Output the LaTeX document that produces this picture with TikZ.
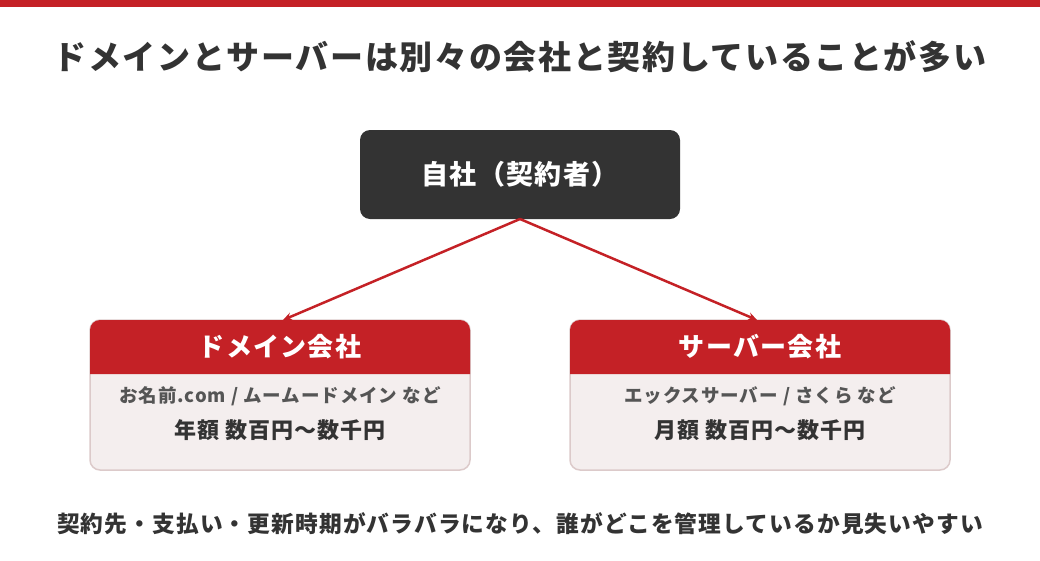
\documentclass[tikz,border=0pt]{standalone}
\usepackage{fontspec}
\setmainfont{Noto Sans CJK JP}[LetterSpace=5]
\usetikzlibrary{arrows.meta,calc}
\definecolor{cred}{HTML}{C42126}
\definecolor{cdark}{HTML}{333333}
\definecolor{cgray}{HTML}{555555}
\definecolor{cbody}{HTML}{F4EEEE}
\definecolor{cborder}{HTML}{DCCACA}
\begin{document}
\begin{tikzpicture}[x=1pt,y=-1pt,
  every node/.style={inner sep=0pt, outer sep=0pt},
  titletext/.style={font=\bfseries\fontsize{33}{33}\selectfont, text=cdark},
  topbox/.style={fill=cdark, rounded corners=10pt, minimum width=320pt, minimum height=89pt,
    text=white, font=\bfseries\fontsize{27}{27}\selectfont},
  cobox/.style={fill=cbody, draw=cborder, line width=1.5pt, rounded corners=10pt,
    minimum width=380pt, minimum height=150pt},
  headfill/.style={fill=cred},
  headtext/.style={text=white, font=\bfseries\fontsize{26}{26}\selectfont},
  subtext/.style={text=cgray, font=\bfseries\fontsize{18.5}{18.5}\selectfont},
  pricetext/.style={text=cdark, font=\bfseries\fontsize{22}{22}\selectfont},
  notetext/.style={text=cdark, font=\bfseries\fontsize{22.7}{22.7}\selectfont},
  arr/.style={draw=cred, line width=2.5pt, -{Stealth[length=9pt,width=8pt]}}
]
\useasboundingbox (0,0) rectangle (1040,560);
\fill[cred] (0,0) rectangle (1040,7);
\node[titletext] (title) at (520,57) {ドメインとサーバーは別々の会社と契約していることが多い};
\node[topbox] (top) at (520,174.5) {自社（契約者）};
% domain box
\node[cobox] (dom) at (280,395) {};
\fill[headfill] ($(dom.north west)+(0,54)$) [rounded corners=10pt] -- (dom.north west) -- (dom.north east) [sharp corners] -- ($(dom.north east)+(0,54)$) -- cycle;
\node[headtext] (domh) at ($(dom.north)+(0,27)$) {ドメイン会社};
\node[subtext] (doms) at (280,396) {お名前.com / ムームードメイン など};
\node[pricetext] (domp) at (280,430) {年額 数百円〜数千円};
% server box
\node[cobox] (srv) at (760,395) {};
\fill[headfill] ($(srv.north west)+(0,54)$) [rounded corners=10pt] -- (srv.north west) -- (srv.north east) [sharp corners] -- ($(srv.north east)+(0,54)$) -- cycle;
\node[headtext] (srvh) at ($(srv.north)+(0,27)$) {サーバー会社};
\node[subtext] (srvs) at (760,396) {エックスサーバー / さくら など};
\node[pricetext] (srvp) at (760,430) {月額 数百円〜数千円};
% arrows
\draw[arr] (top.south) -- ($(dom.north)+(3,0)$);
\draw[arr] (top.south) -- ($(srv.north)+(-3,0)$);
\node[notetext] (note) at (520,524) {契約先・支払い・更新時期がバラバラになり、誰がどこを管理しているか見失いやすい};
\end{tikzpicture}
\end{document}
